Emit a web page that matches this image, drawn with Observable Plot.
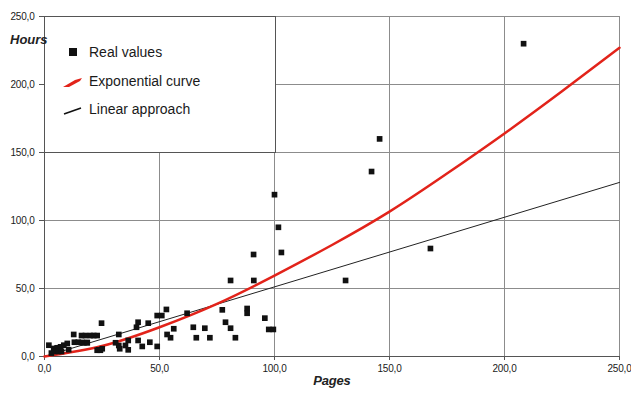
<!DOCTYPE html>
<html>
<head>
<meta charset="utf-8">
<script src="https://cdn.jsdelivr.net/npm/d3@7"></script>
<script src="https://cdn.jsdelivr.net/npm/@observablehq/plot@0.6"></script>
<style>
  html, body { margin: 0; padding: 0; background: #fff; }
  #wrap { position: relative; width: 631px; height: 396px; }
  #legend {
    position: absolute; left: 44px; top: 16px; width: 232px; height: 137px;
    box-sizing: border-box; background: #fff; border: 1px solid #555;
    font-family: "Liberation Sans", Arial, sans-serif; font-size: 14px; color: #1a1a1a;
  }
  #legend .item { position: absolute; left: 44px; line-height: 16px; }
  #hours {
    position: absolute; left: 10px; top: 32px; line-height: 16px;
    font-family: "Liberation Sans", Arial, sans-serif; font-size: 13px;
    font-weight: bold; font-style: italic; color: #222;
  }
</style>
</head>
<body>
<div id="wrap"></div>
<script>
// Tick values (both axes)
const xTicks = [0, 50, 100, 150, 200, 250];
const yTicks = [0, 50, 100, 150, 200, 250];

// Real values: pages
const pages = [
  208.3, 145.7, 142.2, 167.8, 130.9, 100.0, 101.7, 103.0, 90.9, 91.0, 80.9,
  77.3, 88.1, 88.1, 95.8, 97.5, 99.5, 78.7, 80.9, 83.0,
  64.7, 69.7, 66.0, 71.9, 62.0, 56.2, 53.3, 54.8, 53.0, 49.0, 51.0,
  49.0, 45.8, 42.5, 40.7, 40.7, 45.1, 40.0, 36.4, 36.4, 35.2, 32.3, 32.7, 30.9, 32.3,
  24.8, 23.6, 25.1, 22.9, 21.4, 20.0, 17.8, 16.1, 12.7, 18.6, 17.1, 13.0, 14.7,
  22.9, 24.3, 16.4, 18.5,
  1.9, 4.0, 5.5, 7.0, 8.4, 9.9, 4.5, 6.0, 7.4, 10.5, 3.0
];
// Real values: hours
const hours = [
  230.0, 160.0, 136.0, 79.4, 55.9, 119.0, 95.0, 76.5, 75.0, 55.9, 55.9,
  34.3, 35.3, 31.8, 28.2, 19.9, 19.9, 25.2, 20.8, 13.8,
  21.5, 20.8, 13.8, 13.8, 31.8, 20.4, 16.2, 13.8, 34.6, 30.1, 30.1,
  7.4, 10.5, 7.4, 11.8, 25.2, 24.5, 21.5, 11.8, 4.9, 8.1, 8.1, 5.7, 10.1, 16.2,
  24.5, 4.9, 5.7, 15.4, 15.4, 15.4, 15.4, 15.4, 16.2, 10.1, 10.1, 10.5, 10.5,
  4.6, 4.6, 10.3, 10.3,
  8.3, 5.9, 6.4, 7.1, 8.3, 9.6, 3.7, 3.7, 3.7, 5.0, 2.5
];

// Exponential curve
const expoX = [0, 25, 50, 75, 100, 125, 150, 175, 200, 225, 250];
const expoY = [0, 7.7, 21.5, 38.7, 59.5, 82, 106.5, 134.5, 164, 195, 227];

// Linear approach
const linX = [0, 250];
const linY = [0, 128];

const points = pages.map((p, i) => ({ x: p, y: hours[i] }));
const expo = expoX.map((x, i) => ({ x, y: expoY[i] }));
const lin = linX.map((x, i) => ({ x, y: linY[i] }));

const fmt = d => d.toFixed(1).replace(".", ",");

const chart = Plot.plot({
  width: 631,
  height: 396,
  marginLeft: 44,
  marginRight: 12,
  marginTop: 16,
  marginBottom: 40,
  x: { domain: [0, 250] },
  y: { domain: [0, 250] },
  style: {
    fontFamily: "'Liberation Sans', Arial, sans-serif",
    fontSize: "10px",
    letterSpacing: "-0.2px",
    color: "#1a1a1a",
    background: "#fff"
  },
  marks: [
    Plot.gridX(xTicks, { stroke: "#8c8c8c", strokeOpacity: 1 }),
    Plot.gridY(yTicks, { stroke: "#8c8c8c", strokeOpacity: 1 }),
    Plot.axisX(xTicks, { tickSize: 4, tickPadding: 4, tickFormat: fmt, label: null, stroke: "#555" }),
    Plot.axisY(yTicks, { tickSize: 5, tickPadding: 5, tickFormat: fmt, label: null, stroke: "#555" }),
    Plot.ruleX([0], { stroke: "#555" }),
    Plot.ruleY([0], { stroke: "#555" }),
    Plot.line(lin, { x: "x", y: "y", stroke: "#222", strokeWidth: 1 }),
    Plot.line(expo, { x: "x", y: "y", stroke: "#e2231a", strokeWidth: 2.5, curve: "natural" }),
    Plot.dot(points, { x: "x", y: "y", symbol: "square", r: 3.2, fill: "#111", stroke: "none" }),
    Plot.text(["Pages"], {
      frameAnchor: "bottom", dy: 28,
      fontFamily: "'Liberation Sans', Arial, sans-serif",
      fontSize: 13, fontWeight: "bold", fontStyle: "italic", fill: "#222"
    })
  ]
});

const wrap = document.getElementById("wrap");
wrap.appendChild(chart);

// Legend box overlay
const legend = document.createElement("div");
legend.id = "legend";
legend.innerHTML = `
  <svg width="230" height="135" style="position:absolute;left:0;top:0">
    <rect x="24" y="31" width="8" height="8" fill="#111"></rect>
    <path d="M18 70 L30 63 L37 61 L35 64 L24 70 Z" fill="#e2231a"></path>
    <line x1="19" y1="97" x2="36" y2="91" stroke="#111" stroke-width="1.6"></line>
  </svg>
  <div class="item" style="top:27px">Real values</div>
  <div class="item" style="top:56px">Exponential curve</div>
  <div class="item" style="top:84px">Linear approach</div>
`;
wrap.appendChild(legend);

// Y axis title drawn above the legend box
const hoursLabel = document.createElement("div");
hoursLabel.id = "hours";
hoursLabel.textContent = "Hours";
wrap.appendChild(hoursLabel);
</script>
</body>
</html>
